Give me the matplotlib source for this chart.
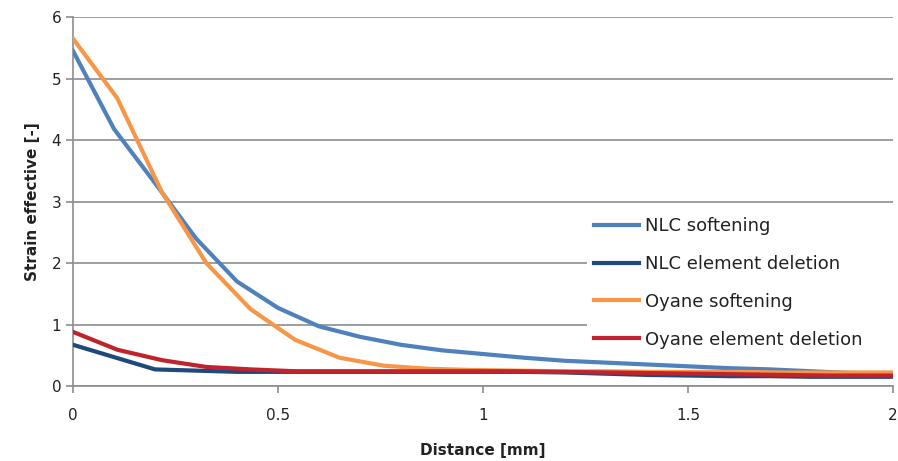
import matplotlib.pyplot as plt
from matplotlib.patches import Rectangle

# Strain along the distance from the notch for the two damage models
x_nlc = [0, 0.1, 0.2, 0.3, 0.4, 0.5, 0.6, 0.7, 0.8, 0.9, 1.0, 1.1, 1.2, 1.3,
         1.4, 1.5, 1.6, 1.7, 1.8, 1.9, 2.0]
nlc_soft = [5.45, 4.18, 3.3, 2.4, 1.7, 1.27, 0.97, 0.8, 0.67, 0.58, 0.52, 0.46,
            0.41, 0.38, 0.35, 0.32, 0.29, 0.27, 0.24, 0.21, 0.2]
nlc_del = [0.67, 0.47, 0.27, 0.25, 0.23, 0.23, 0.23, 0.23, 0.23, 0.23, 0.23,
           0.23, 0.22, 0.2, 0.18, 0.17, 0.16, 0.16, 0.15, 0.15, 0.15]

x_oy = [0, 0.108, 0.217, 0.325, 0.433, 0.542, 0.65, 0.758, 0.867, 0.975,
        1.083, 1.192, 1.3, 1.408, 1.517, 1.625, 1.733, 1.842, 1.95, 2.0]
oy_soft = [5.65, 4.68, 3.15, 2.0, 1.25, 0.75, 0.46, 0.33, 0.28, 0.26, 0.25,
           0.24, 0.24, 0.23, 0.23, 0.23, 0.22, 0.22, 0.22, 0.22]
oy_del = [0.88, 0.59, 0.42, 0.31, 0.27, 0.24, 0.24, 0.24, 0.24, 0.24, 0.24,
          0.23, 0.22, 0.21, 0.2, 0.19, 0.18, 0.17, 0.17, 0.17]

fig = plt.figure(figsize=(8.98, 4.61), dpi=100)
ax = fig.add_axes([0.0813, 0.1627, 0.9131, 0.8003])

lw = 3.0
ax.plot(x_nlc, nlc_soft, color='#4F81BD', lw=lw, label='NLC softening', zorder=3)
ax.plot(x_nlc, nlc_del, color='#1F497D', lw=lw, label='NLC element deletion', zorder=3)
ax.plot(x_oy, oy_soft, color='#F79646', lw=lw, label='Oyane softening', zorder=3)
ax.plot(x_oy, oy_del, color='#C0232B', lw=lw, label='Oyane element deletion', zorder=4)

ax.set_xlim(0, 2)
ax.set_ylim(0, 6)
ax.set_xticks([0, 0.5, 1, 1.5, 2])
ax.set_xticklabels(['0', '0.5', '1', '1.5', '2'])
ax.set_yticks(range(7))

ax.grid(axis='y', color='#8c8c8c', lw=1.2)
ax.set_axisbelow(True)
for s in ['top', 'right']:
    ax.spines[s].set_visible(False)
for s in ['left', 'bottom']:
    ax.spines[s].set_color('#8c8c8c')
    ax.spines[s].set_linewidth(1.2)
ax.tick_params(colors='#8c8c8c', labelcolor='#222222', labelsize=11,
               length=5, width=1.2, direction='out')
ax.tick_params(axis='x', pad=11)

ax.set_xlabel('Distance [mm]', fontsize=11, fontweight='bold', color='#222222', labelpad=14)
ax.set_ylabel('Strain effective [-]', fontsize=11, fontweight='bold', color='#222222', labelpad=8)

# legend sits over the right part of the plot, reaching the figure edge
leg = fig.legend(*ax.get_legend_handles_labels(), loc='upper left',
                 bbox_to_anchor=(0.6537, 0.545), bbox_transform=fig.transFigure,
                 frameon=True, fontsize=13, handlelength=2.5, handletextpad=0.3,
                 labelspacing=1.1, borderpad=0.4, borderaxespad=0,
                 edgecolor='none', facecolor='white', framealpha=1, fancybox=False)
for t in leg.get_texts():
    t.set_color('#222222')

# white backing so the grid stays hidden right up to the edge
fig.canvas.draw()
bb = leg.get_window_extent().transformed(fig.transFigure.inverted())
fig.add_artist(Rectangle((bb.x0, bb.y0), 1 - bb.x0, bb.height,
                         transform=fig.transFigure, facecolor='white',
                         edgecolor='none', zorder=1))

fig.savefig('out.png', dpi=100)
